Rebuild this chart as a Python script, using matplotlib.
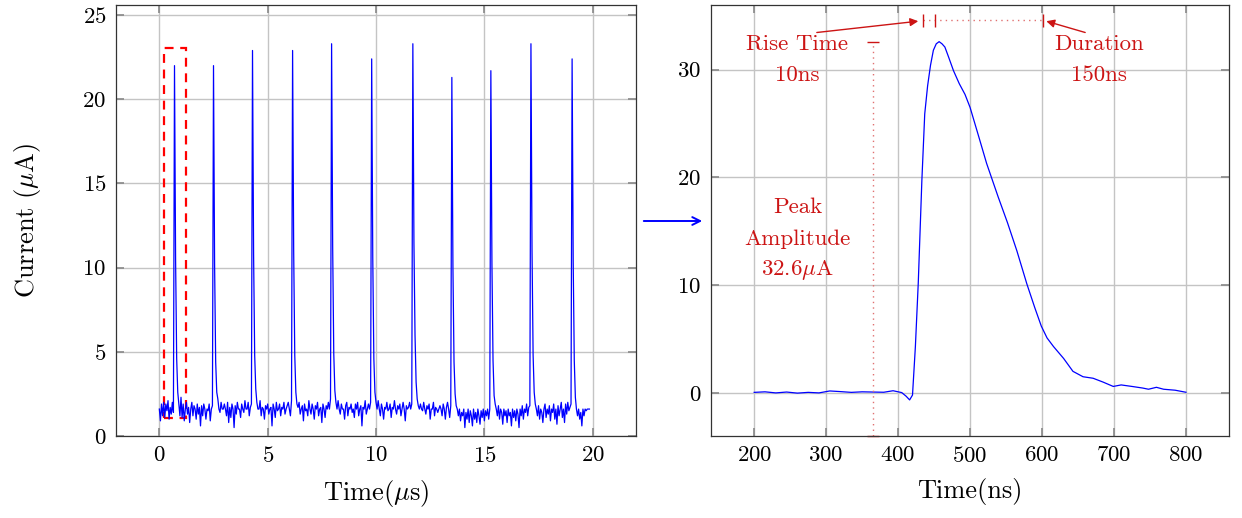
import matplotlib
matplotlib.use("Agg")
import matplotlib.pyplot as plt
from matplotlib.patches import Rectangle, FancyArrowPatch
import numpy as np

plt.rcParams['font.family'] = 'cmr10'
plt.rcParams['mathtext.fontset'] = 'cm'
plt.rcParams['axes.unicode_minus'] = False
plt.rcParams['axes.formatter.use_mathtext'] = True

# left panel: pulse train, one row per microsecond, sampled every 0.05 us
current_ua = [
    1.6, 0.9, 1.9, 1.2, 2.0, 1.1, 1.9, 1.5, 2.1, 1.0, 1.7, 1.3, 2.0, 1.4, 22.0, 10.5, 4.6, 2.6, 1.9, 1.2,
    2.3, 1.1, 1.9, 0.9, 1.6, 2.0, 1.3, 1.7, 0.8, 1.6, 2.0, 1.2, 1.8, 1.6, 1.0, 1.9, 1.3, 1.7, 0.6, 1.8,
    1.2, 1.9, 1.6, 1.0, 1.6, 1.5, 1.9, 0.9, 1.6, 1.8, 22.0, 10.2, 4.4, 2.6, 2.2, 1.6, 1.4, 2.0, 1.6, 1.6,
    1.9, 1.6, 1.2, 2.0, 0.8, 1.7, 1.1, 1.9, 1.6, 0.5, 1.8, 1.3, 2.0, 1.6, 1.6, 1.1, 1.9, 1.6, 1.4, 2.1,
    1.6, 1.6, 2.0, 1.2, 1.7, 1.9, 22.9, 10.8, 4.8, 2.8, 2.0, 1.6, 1.6, 2.1, 1.2, 1.7, 1.6, 1.0, 1.8, 1.6,
    1.9, 1.3, 1.6, 1.7, 0.6, 1.9, 1.6, 1.1, 2.0, 1.5, 1.6, 1.9, 1.2, 1.7, 1.6, 2.0, 1.3, 1.6, 1.8, 2.0,
    1.6, 1.2, 2.1, 22.9, 11.0, 4.8, 2.6, 1.9, 1.7, 2.0, 1.3, 1.6, 1.8, 0.9, 1.9, 1.5, 1.6, 1.2, 2.1, 1.6,
    1.3, 1.9, 1.6, 1.0, 1.8, 1.6, 2.0, 1.2, 1.6, 1.7, 0.8, 1.9, 1.6, 1.1, 1.8, 1.6, 2.0, 1.6, 2.2, 23.3,
    11.2, 4.9, 2.7, 2.0, 1.6, 2.1, 1.6, 1.3, 1.9, 1.6, 1.6, 1.0, 1.8, 2.0, 1.2, 1.7, 1.6, 1.9, 1.4, 1.6,
    1.1, 1.9, 1.6, 2.0, 1.2, 1.6, 1.8, 0.6, 1.7, 1.6, 2.1, 1.3, 1.6, 1.9, 1.6, 2.0, 22.4, 10.6, 4.6, 2.6,
    2.0, 1.6, 2.1, 1.6, 1.2, 1.9, 1.6, 1.0, 1.7, 1.6, 2.0, 1.5, 1.6, 1.9, 1.1, 1.7, 1.6, 2.1, 1.6, 1.3,
    1.8, 1.6, 1.9, 1.2, 1.6, 2.0, 1.6, 0.9, 1.8, 1.6, 1.7, 2.0, 1.6, 1.9, 23.3, 11.5, 6.0, 3.2, 2.2, 1.8,
    1.6, 1.9, 1.6, 1.5, 2.0, 1.6, 1.3, 1.8, 1.6, 1.9, 1.0, 1.6, 1.6, 2.0, 1.2, 1.7, 1.6, 1.4, 1.6, 1.8,
    1.6, 1.2, 1.9, 1.6, 1.0, 1.7, 2.0, 1.6, 1.1, 1.8, 21.3, 10.0, 4.4, 2.5, 1.8, 1.6, 1.2, 1.6, 0.9, 1.4,
    1.2, 1.6, 0.5, 1.4, 1.0, 1.6, 0.8, 1.5, 1.2, 0.6, 1.6, 1.0, 1.4, 0.8, 1.6, 1.2, 0.7, 1.5, 1.1, 1.6,
    0.9, 1.5, 1.2, 1.6, 1.0, 1.6, 21.7, 10.2, 4.5, 2.4, 1.9, 1.6, 1.2, 1.8, 1.0, 1.6, 1.4, 0.7, 1.6, 1.2,
    1.5, 0.8, 1.6, 1.2, 1.4, 0.6, 1.6, 1.1, 1.5, 0.9, 1.6, 1.3, 0.5, 1.6, 1.2, 1.8, 1.0, 1.6, 1.4, 1.9,
    1.2, 1.7, 1.8, 23.3, 11.0, 4.8, 2.6, 1.9, 1.6, 1.2, 1.8, 1.0, 1.6, 1.4, 0.8, 1.6, 1.9, 1.1, 1.6, 1.3,
    1.8, 0.9, 1.6, 1.4, 1.9, 1.0, 1.6, 0.7, 1.8, 1.2, 1.6, 2.0, 1.1, 1.6, 0.8, 1.9, 1.3, 2.0, 1.5, 1.7,
    1.9, 22.4, 10.4, 4.5, 2.3, 1.6, 1.2, 1.6, 1.0, 1.4, 0.6, 1.6, 1.2, 1.6, 1.5, 1.6, 1.6, 1.6,
]
time_us = np.arange(len(current_ua)) * 0.05

# right panel: single pulse zoomed in
pulse_t_ns = [200, 215, 230, 245, 260, 275, 290, 305, 320, 335, 350, 365, 380, 393, 405,
              411, 416, 420, 424, 428, 433, 437, 441, 445, 449, 453, 457, 461, 465, 470,
              477, 485, 493, 500, 512, 523, 539, 552, 565, 579, 590, 599, 607, 616, 630,
              643, 657, 671, 685, 699, 710, 725, 740, 748, 759, 769, 785, 800]
pulse_ua = [0.05, 0.1, 0.0, 0.08, -0.02, 0.05, 0.0, 0.18, 0.12, 0.05, 0.1, 0.08, 0.06, 0.2, 0.03,
            -0.3, -0.65, -0.2, 4.3, 10.2, 19.7, 25.9, 28.5, 30.4, 31.8, 32.4, 32.6, 32.4, 32.1, 31.2,
            29.9, 28.7, 27.7, 26.5, 23.8, 21.3, 18.2, 15.8, 13.2, 10.1, 7.9, 6.2, 5.1, 4.3, 3.2,
            2.0, 1.5, 1.36, 1.0, 0.6, 0.74, 0.6, 0.45, 0.34, 0.52, 0.34, 0.25, 0.06]

peak_ua = 32.6
rise_marks = [434, 451, 601]

red = '#cc1414'
pink = '#e07070'

fig = plt.figure(figsize=(12.42, 5.18), dpi=100)
ax1 = fig.add_axes([0.0934, 0.1583, 0.4187, 0.832])
ax2 = fig.add_axes([0.5725, 0.1583, 0.4171, 0.832])

for ax in (ax1, ax2):
    ax.grid(True, color='#c4c4c4', lw=1.0)
    ax.set_axisbelow(True)
    ax.tick_params(direction='in', top=True, right=True, length=6, width=1.2,
                   color='#888888', labelsize=16.5, pad=7)
    for s in ax.spines.values():
        s.set_linewidth(0.9)
        s.set_color('#333333')

ax1.plot(time_us, current_ua, color='blue', lw=0.9)
ax1.add_patch(Rectangle((0.23, 1.05), 1.0, 22.0, fill=False, ec='red', lw=1.6, ls=(0, (4, 3))))
ax1.set_xlim(-2, 22)
ax1.set_ylim(0, 25.6)
ax1.set_xticks([0, 5, 10, 15, 20])
ax1.set_yticks([0, 5, 10, 15, 20, 25])
ax1.set_xlabel(r'Time($\mu$s)', fontsize=19, labelpad=9)
ax1.set_ylabel(r'Current ($\mu$A)', fontsize=19, labelpad=28)

ax2.plot(pulse_t_ns, pulse_ua, color='blue', lw=0.9)
ax2.set_xlim(140, 860)
ax2.set_ylim(-4, 36)
ax2.set_xticks([200, 300, 400, 500, 600, 700, 800])
ax2.set_yticks([0, 10, 20, 30])
ax2.set_xlabel('Time(ns)', fontsize=19, labelpad=9)

# peak amplitude marker
ax2.plot([365, 365], [-4, peak_ua], color=pink, lw=1.0, ls=(0, (1, 3)))
ax2.hlines([-4, peak_ua], 357, 373, color=red, lw=1.0, clip_on=False)
# rise time / duration marker
ax2.plot([rise_marks[0], rise_marks[-1]], [34.6, 34.6], color=pink, lw=1.0, ls=(0, (1, 3)))
ax2.vlines(rise_marks, 34.0, 35.2, color=red, lw=1.0)
ax2.annotate('', xy=(428, 34.5), xytext=(287, 33.45),
             arrowprops=dict(arrowstyle='-|>', color=red, lw=1.0, mutation_scale=12, shrinkA=0, shrinkB=0))
ax2.annotate('', xy=(606, 34.5), xytext=(660, 33.45),
             arrowprops=dict(arrowstyle='-|>', color=red, lw=1.0, mutation_scale=12, shrinkA=0, shrinkB=0))

tkw = dict(color=red, fontsize=16.5, ha='center', va='center')
ax2.text(260, 32.4, 'Rise Time', **tkw)
ax2.text(260, 29.5, '10ns', **tkw)
ax2.text(679, 32.4, 'Duration', **tkw)
ax2.text(679, 29.5, '150ns', **tkw)
ax2.text(260, 17.2, 'Peak', **tkw)
ax2.text(260, 14.3, 'Amplitude', **tkw)
ax2.text(260, 11.4, r'32.6$\mu$A', **tkw)

# arrow linking the two panels
fig.patches.append(FancyArrowPatch(
    (641 / 1242, 1 - 221 / 518), (705 / 1242, 1 - 221 / 518), transform=fig.transFigure,
    arrowstyle='->', color='blue', lw=1.4, mutation_scale=14))

fig.savefig('out.png', dpi=100)
